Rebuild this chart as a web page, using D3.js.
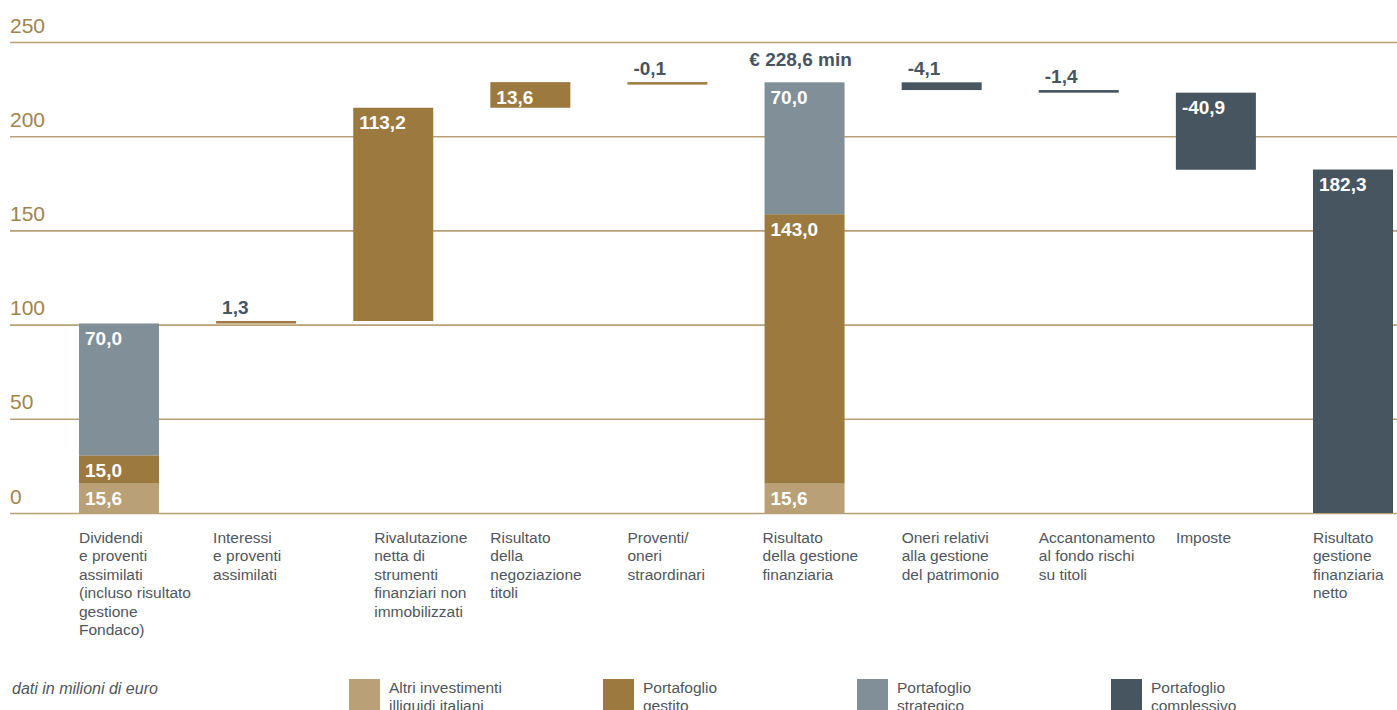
<!DOCTYPE html>
<meta charset="utf-8">
<script src="https://d3js.org/d3.v7.min.js"></script>
<style>
  body { margin: 0; background: #fff; }
  text { font-family: "Liberation Sans", Arial, sans-serif; }
</style>

<!-- Create a div where the graph will take place -->
<div id="my_dataviz"></div>
<script>

  // categories (one array of lines per bar)
  var categories = [
    ["Dividendi", "e proventi", "assimilati", "(incluso risultato", "gestione", "Fondaco)"],
    ["Interessi", "e proventi", "assimilati"],
    ["Rivalutazione", "netta di", "strumenti", "finanziari non", "immobilizzati"],
    ["Risultato", "della", "negoziazione", "titoli"],
    ["Proventi/", "oneri", "straordinari"],
    ["Risultato", "della gestione", "finanziaria"],
    ["Oneri relativi", "alla gestione", "del patrimonio"],
    ["Accantonamento", "al fondo rischi", "su titoli"],
    ["Imposte"],
    ["Risultato", "gestione", "finanziaria", "netto"]
  ];
  // totals start again from zero
  var isTotal = [false, false, false, false, false, true, false, false, false, true];

  // series values (milioni di euro)
  var altriIlliquidi = [15.6, 0, 0, 0, 0, 15.6, 0, 0, 0, 0];
  var portafoglioGestito = [15.0, 1.3, 113.2, 13.6, -0.1, 143.0, 0, 0, 0, 0];
  var portafoglioStrategico = [70.0, 0, 0, 0, 0, 70.0, 0, 0, 0, 0];
  var portafoglioComplessivo = [0, 0, 0, 0, 0, 0, -4.1, -1.4, -40.9, 182.3];

  var seriesNames = [
    ["Altri investimenti", "illiquidi italiani"],
    ["Portafoglio", "gestito"],
    ["Portafoglio", "strategico"],
    ["Portafoglio", "complessivo"]
  ];
  var headLabels = ["", "", "", "", "", "€ 228,6 min", "", "", "", ""];
  var yTicks = [0, 50, 100, 150, 200, 250];
  var note = "dati in milioni di euro";

  var colors = ["#b9a077", "#9c7a3f", "#819098", "#46555f"];
  var darkText = "#46555f";
  var seriesValues = [altriIlliquidi, portafoglioGestito, portafoglioStrategico, portafoglioComplessivo];

  var W = 1397, H = 710;
  var svg = d3.select("#my_dataviz")
    .append("svg")
    .attr("width", W)
    .attr("height", H);

  var yScale = d3.scaleLinear().domain([0, 250]).range([513, 42]);
  var xScale = d3.scaleBand().domain(d3.range(categories.length))
    .range([79, 1393]).paddingInner(0.4165).paddingOuter(0);

  var fmt = function (v) { return d3.format(".1f")(v).replace(".", ",").replace("\u2212", "-"); };

  // gridlines + tick labels
  var axis = svg.append("g")
    .attr("transform", "translate(10,0)")
    .call(d3.axisRight(yScale).tickValues(yTicks).tickSize(W - 10).tickFormat(d3.format("d")));
  axis.select(".domain").remove();
  axis.selectAll(".tick line").attr("stroke", "#b9a177").attr("stroke-width", 1.6);
  axis.selectAll(".tick text")
    .attr("x", 0).attr("dy", -10)
    .attr("text-anchor", "start")
    .attr("fill", "#a3834b")
    .style("font-size", "21px");

  // build waterfall segments
  var segments = [];
  var running = 0;
  categories.forEach(function (c, i) {
    var base = isTotal[i] ? 0 : running;
    var level = base;
    seriesValues.forEach(function (vals, s) {
      var v = vals[i];
      if (!v) return;
      var y0 = Math.min(level, level + v), y1 = Math.max(level, level + v);
      segments.push({ i: i, s: s, v: v, y0: y0, y1: y1 });
      level += v;
    });
    running = level;
  });

  var bars = svg.append("g");
  bars.selectAll("rect")
    .data(segments)
    .enter()
    .append("rect")
    .attr("x", function (d) { return xScale(d.i); })
    .attr("width", xScale.bandwidth())
    .attr("y", function (d) { return yScale(d.y1); })
    .attr("height", function (d) { return Math.max(2.5, yScale(d.y0) - yScale(d.y1)); })
    .attr("fill", function (d) { return colors[d.s]; });

  // value labels: inside when the bar is tall enough, above otherwise
  bars.selectAll("text")
    .data(segments)
    .enter()
    .append("text")
    .attr("x", function (d) { return xScale(d.i) + 6; })
    .attr("y", function (d) {
      var top = yScale(d.y1), h = yScale(d.y0) - top;
      return h >= 24 ? top + 21.5 : top - 7;
    })
    .attr("fill", function (d) {
      return (yScale(d.y0) - yScale(d.y1)) >= 24 ? "#fff" : darkText;
    })
    .style("font-size", "19px")
    .style("font-weight", "bold")
    .text(function (d) { return fmt(d.v); });

  // head label over the total bar
  headLabels.forEach(function (t, i) {
    if (!t) return;
    var top = d3.min(segments.filter(function (d) { return d.i === i; }), function (d) { return yScale(d.y1); });
    svg.append("text")
      .attr("x", xScale(i) + xScale.bandwidth() / 2 - 4)
      .attr("y", top - 16)
      .attr("text-anchor", "middle")
      .attr("fill", darkText)
      .style("font-size", "19px")
      .style("font-weight", "bold")
      .text(t);
  });

  // category labels
  var labelShift = { 2: 21, 1: -3, 5: -2 };
  var cat = svg.append("g").selectAll("text")
    .data(categories)
    .enter()
    .append("text")
    .attr("transform", function (d, i) { return "translate(" + (xScale(i) + (labelShift[i] || 0)) + ",543)"; })
    .attr("fill", "#50565c")
    .style("font-size", "15.5px");
  cat.selectAll("tspan")
    .data(function (d) { return d; })
    .enter()
    .append("tspan")
    .attr("x", 0)
    .attr("y", function (d, k) { return k * 18.4; })
    .text(function (d) { return d; });

  // note
  svg.append("text")
    .attr("x", 12).attr("y", 694)
    .attr("fill", "#50565c")
    .style("font-size", "16px")
    .style("font-style", "italic")
    .text(note);

  // legend
  var legend = svg.append("g").selectAll("g")
    .data(seriesNames)
    .enter()
    .append("g")
    .attr("transform", function (d, i) { return "translate(" + (349 + i * 254) + ",679)"; });
  legend.append("rect")
    .attr("width", 31).attr("height", 34)
    .attr("fill", function (d, i) { return colors[i]; });
  var lt = legend.append("text")
    .attr("fill", "#50565c")
    .style("font-size", "15.5px");
  lt.selectAll("tspan")
    .data(function (d) { return d; })
    .enter()
    .append("tspan")
    .attr("x", 40)
    .attr("y", function (d, k) { return 14 + k * 18; })
    .text(function (d) { return d; });

</script>
